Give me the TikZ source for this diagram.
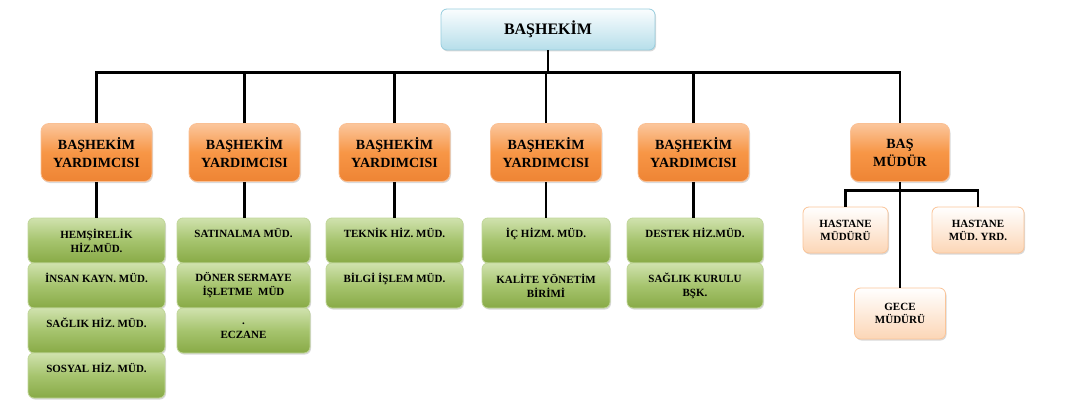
\documentclass[tikz,border=0pt]{standalone}
\usepackage{fontspec}
\setmainfont{Liberation Serif}
\usetikzlibrary{shadows}

\definecolor{azulTopo}{RGB}{250,253,254}
\definecolor{azulBase}{RGB}{182,222,234}
\definecolor{azulBorda}{RGB}{150,205,222}
\definecolor{laranjaTopo}{RGB}{251,198,156}
\definecolor{laranjaMeio}{RGB}{247,150,70}
\definecolor{laranjaBase}{RGB}{238,132,52}
\definecolor{laranjaBorda}{RGB}{250,192,148}
\definecolor{verdeTopo}{RGB}{208,226,174}
\definecolor{verdeMeio}{RGB}{166,196,110}
\definecolor{verdeBase}{RGB}{136,170,70}
\definecolor{verdeBorda}{RGB}{192,214,152}
\definecolor{pessegoTopo}{RGB}{255,255,255}
\definecolor{pessegoBase}{RGB}{252,214,182}
\definecolor{pessegoBorda}{RGB}{250,196,152}

\tikzset{
    caixa/.style={draw, rounded corners=6pt, line width=0.8pt, align=center, inner sep=2pt,
        drop shadow={shadow xshift=1pt, shadow yshift=-1.5pt, opacity=.3}},
    chefe/.style={caixa, draw=azulBorda, top color=azulTopo, bottom color=azulBase,
        minimum width=214pt, minimum height=41pt, font=\bfseries\fontsize{16}{19}\selectfont},
    vice/.style={caixa, rounded corners=8pt, draw=laranjaBorda, top color=laranjaTopo, bottom color=laranjaBase,
        middle color=laranjaMeio, minimum width=111pt, minimum height=58pt, font=\bfseries\fontsize{14}{18}\selectfont},
    setor/.style={caixa, draw=verdeBorda, top color=verdeTopo, bottom color=verdeBase, middle color=verdeMeio,
        minimum height=45pt, font=\bfseries\fontsize{11}{14}\selectfont},
    tek/.style={text depth=16pt},
    sub/.style={caixa, draw=pessegoBorda, top color=pessegoTopo, bottom color=pessegoBase,
        minimum height=46pt, font=\bfseries\fontsize{11}{13}\selectfont},
    linha/.style={line width=2.6pt}
}

\begin{document}
\begin{tikzpicture}[x=1pt, y=-1pt]
    \useasboundingbox (0,0) rectangle (1086,401);
    % topo da hierarquia
    \node[chefe] (bashekim) at (548,29.5) {BAŞHEKİM};
    % adjuntos e diretor
    \foreach \i/\x in {1/96.5,2/244.5,3/394.5,4/546,5/693.5}{
        \node[vice] (y\i) at (\x,152.5) {BAŞHEKİM\\YARDIMCISI};
    }
    \node[vice, minimum width=99pt] (bm) at (900,152.5) {BAŞ\\MÜDÜR};
    % setores (colunas verdes)
    \node[setor, minimum width=137pt] (g11) at (96.5,240.5) {HEMŞİRELİK\\HİZ.MÜD.};
    \node[setor, tek, minimum width=137pt] (g12) at (96.5,285.5) {İNSAN KAYN. MÜD.};
    \node[setor, tek, minimum width=137pt] (g13) at (96.5,330.5) {SAĞLIK HİZ. MÜD.};
    \node[setor, tek, minimum width=137pt] (g14) at (96.5,375.5) {SOSYAL HİZ. MÜD.};
    \node[setor, tek, minimum width=133pt] (g21) at (243.5,240.5) {SATINALMA MÜD.};
    \node[setor, minimum width=133pt] (g22) at (243.5,285.5) {DÖNER SERMAYE\\İŞLETME~ MÜD};
    \node[setor, minimum width=133pt] (g23) at (243.5,330.5) {.\\ECZANE};
    \node[setor, tek, minimum width=137pt] (g31) at (394.5,240.5) {TEKNİK HİZ. MÜD.};
    \node[setor, tek, minimum width=137pt] (g32) at (394.5,285.5) {BİLGİ İŞLEM MÜD.};
    \node[setor, tek, minimum width=128pt] (g41) at (546,240.5) {İÇ HİZM. MÜD.};
    \node[setor, minimum width=128pt] (g42) at (546,285.5) {KALİTE YÖNETİM\\BİRİMİ};
    \node[setor, tek, minimum width=136pt] (g51) at (695,240.5) {DESTEK HİZ.MÜD.};
    \node[setor, minimum width=136pt] (g52) at (695,285.5) {SAĞLIK KURULU\\BŞK.};
    % subordinados do diretor
    \node[sub, minimum width=85pt] (hm) at (845.5,230) {HASTANE\\MÜDÜRÜ};
    \node[sub, minimum width=92pt] (hmy) at (978,230) {HASTANE\\MÜD. YRD.};
    \node[sub, minimum width=91pt, minimum height=51pt] (gece) at (900,313.5) {GECE\\MÜDÜRÜ};
    % ligações
    \draw[linha] (bashekim.south) -- ++(0,22) coordinate (bus);
    \foreach \i in {1,...,5}{
        \draw[linha] (y\i.north) |- (bus);
        \draw[linha] (y\i.south) -- (y\i.south |- g\i1.north);
    }
    \draw[linha] (bm.north) |- (bus);
    \draw[linha] (bm.south) -- (gece.north);
    \draw[linha] (hm.north) -- ++(0,-16) -| (hmy.north);
\end{tikzpicture}
\end{document}
